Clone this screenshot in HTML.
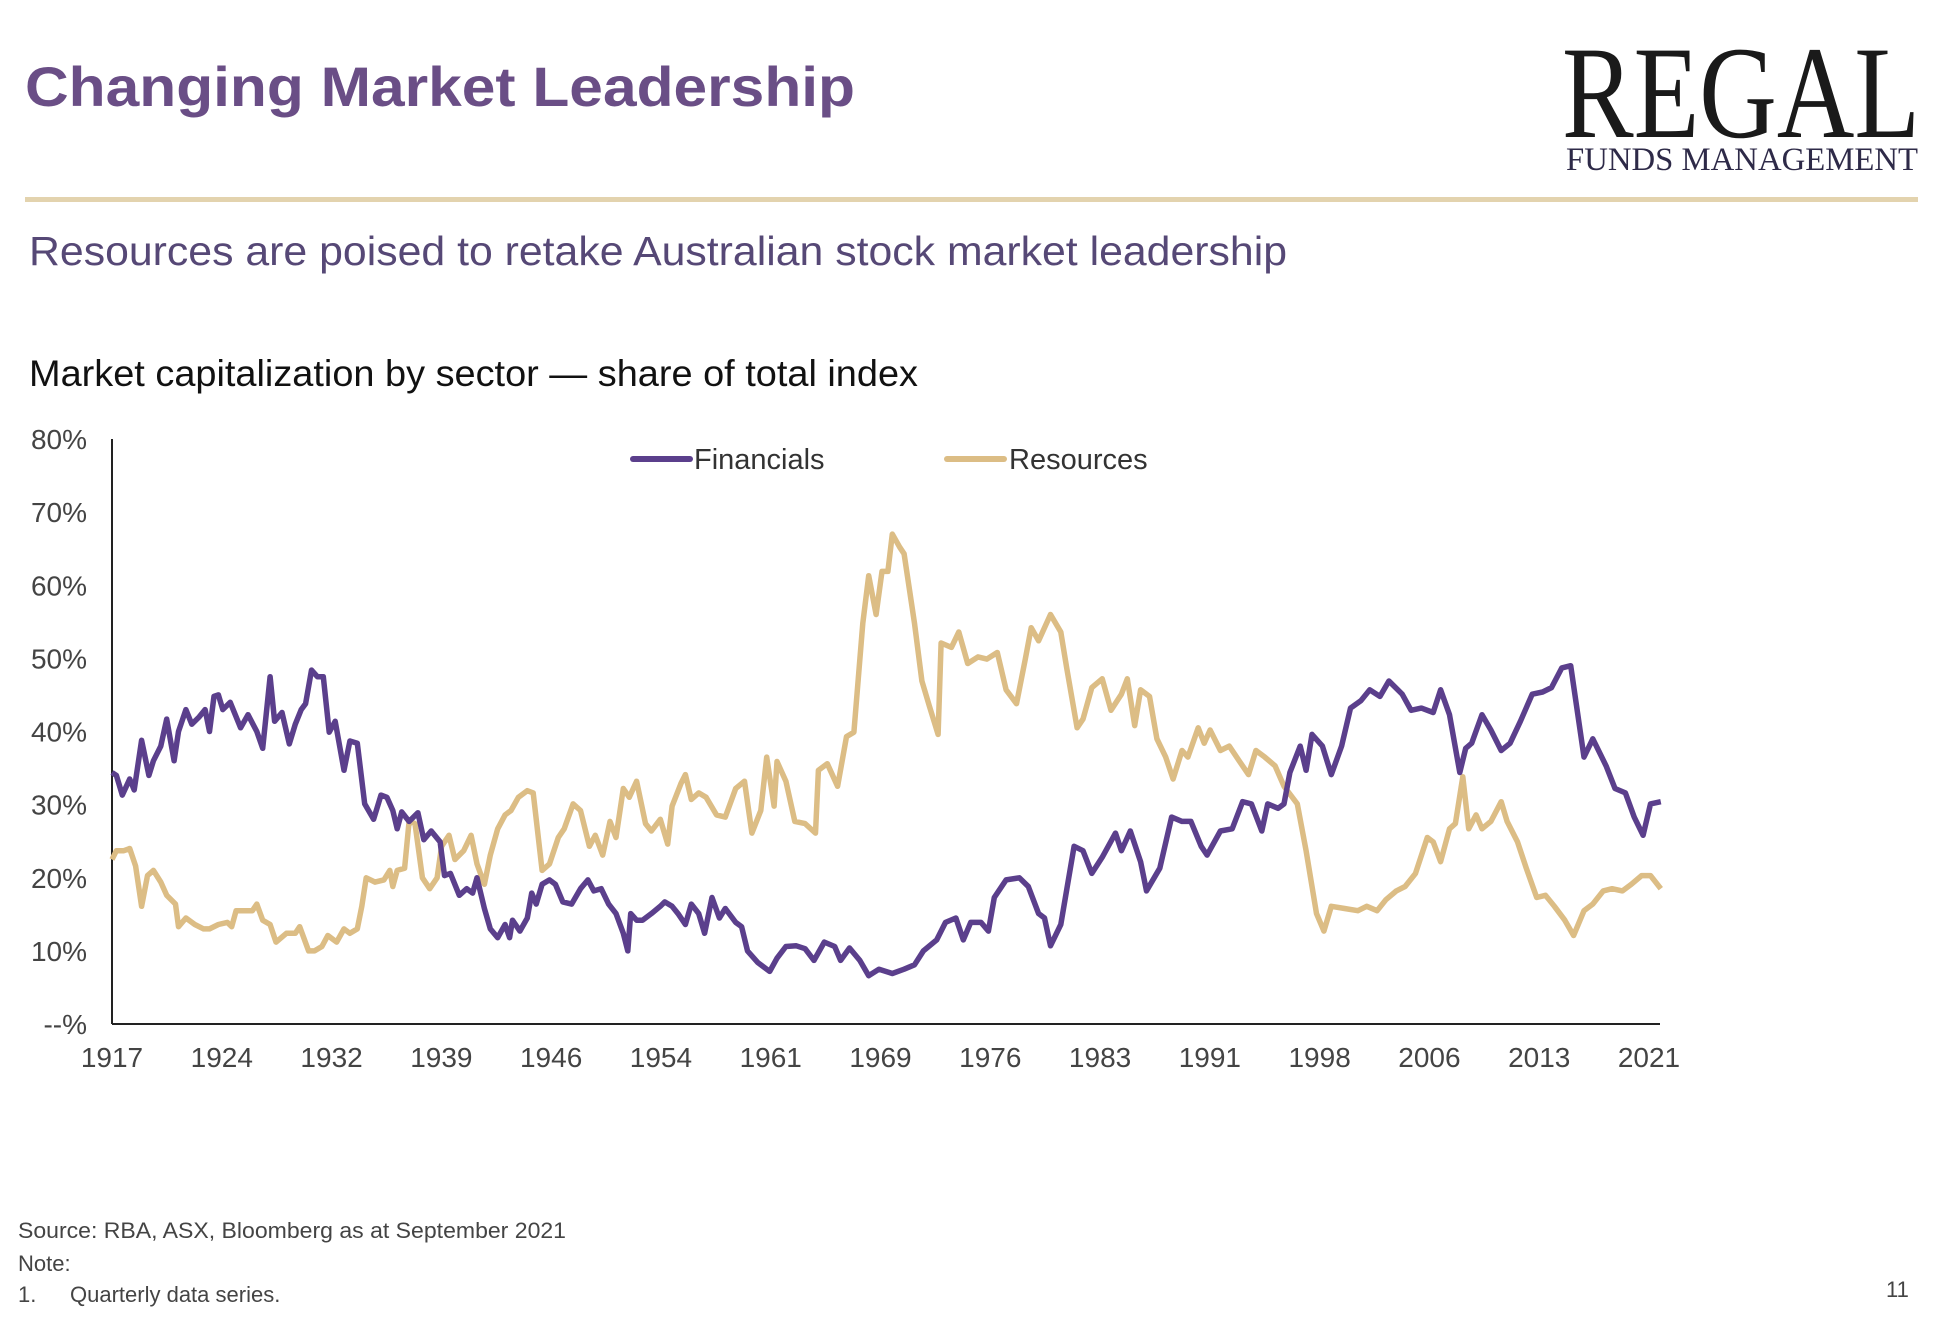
<!DOCTYPE html>
<html><head><meta charset="utf-8"><style>
html,body{margin:0;padding:0;background:#fff;}
svg{display:block;font-family:"Liberation Sans",sans-serif;}
</style></head><body>
<svg id="chart" width="1958" height="1320" viewBox="0 0 1958 1320">
<text x="25" y="106" font-size="56" font-weight="bold" fill="#6a4e86" textLength="830" lengthAdjust="spacingAndGlyphs">Changing Market Leadership</text>
<text x="1562" y="137" font-family="Liberation Serif, serif" font-size="132" fill="#1a1a1a" textLength="358" lengthAdjust="spacingAndGlyphs">REGAL</text>
<text x="1566" y="170" font-family="Liberation Serif, serif" font-size="33" fill="#2e2a48" textLength="352" lengthAdjust="spacingAndGlyphs">FUNDS MANAGEMENT</text>
<rect x="25" y="197" width="1893" height="5" fill="#e3d3ae"/>
<text x="29" y="265" font-size="41" fill="#564876" textLength="1258" lengthAdjust="spacingAndGlyphs">Resources are poised to retake Australian stock market leadership</text>
<text x="29" y="386" font-size="37" fill="#111" textLength="889" lengthAdjust="spacingAndGlyphs">Market capitalization by sector — share of total index</text>
<g id="axes"></g>
<g id="series"></g>
<g>
<line x1="633" y1="459" x2="690" y2="459" stroke="#5b3f8c" stroke-width="6" stroke-linecap="round"/>
<text x="694" y="469" font-size="29" fill="#333">Financials</text>
<line x1="947" y1="459" x2="1004" y2="459" stroke="#dcbd85" stroke-width="6" stroke-linecap="round"/>
<text x="1009" y="469" font-size="29" fill="#333">Resources</text>
</g>
<text x="18" y="1238" font-size="22" fill="#444" textLength="548" lengthAdjust="spacingAndGlyphs">Source: RBA, ASX, Bloomberg as at September 2021</text>
<text x="18" y="1271" font-size="22" fill="#444">Note:</text>
<text x="18" y="1302" font-size="22" fill="#444">1.</text>
<text x="70" y="1302" font-size="22" fill="#444">Quarterly data series.</text>
<text x="1886" y="1297" font-size="22" fill="#444">11</text>
</svg>
<script>
const yTicks = [0,10,20,30,40,50,60,70,80];
const yTickLabels = ["--%","10%","20%","30%","40%","50%","60%","70%","80%"];
const xTickYears = [1917,1924,1932,1939,1946,1954,1961,1969,1976,1983,1991,1998,2006,2013,2021];
const finYears = [1917.0,1917.3,1917.7,1918.2,1918.5,1919.0,1919.5,1919.8,1920.3,1920.7,1921.2,1921.5,1922.0,1922.4,1922.9,1923.3,1923.6,1923.9,1924.2,1924.5,1925.0,1925.7,1926.2,1926.8,1927.2,1927.7,1928.0,1928.5,1929.0,1929.4,1929.8,1930.1,1930.5,1930.9,1931.3,1931.7,1932.1,1932.7,1933.1,1933.6,1934.1,1934.7,1935.2,1935.6,1936.0,1936.3,1936.6,1937.1,1937.7,1938.1,1938.6,1939.2,1939.5,1939.9,1940.5,1941.0,1941.4,1941.7,1942.2,1942.6,1943.1,1943.6,1943.9,1944.1,1944.6,1945.1,1945.4,1945.7,1946.1,1946.6,1947.0,1947.5,1948.1,1948.7,1949.2,1949.6,1950.1,1950.6,1951.1,1951.6,1951.9,1952.1,1952.5,1952.9,1953.5,1954.1,1954.4,1954.9,1955.3,1955.8,1956.2,1956.7,
1957.1,1957.6,1958.1,1958.5,1959.2,1959.6,1960.0,1960.7,1961.5,1962.0,1962.6,1963.3,1963.9,1964.5,1965.2,1965.9,1966.3,1966.9,1967.6,1968.2,1968.9,1969.8,1970.6,1971.3,1971.9,1972.8,1973.4,1974.1,1974.6,1975.1,1975.8,1976.3,1976.7,1977.5,1978.4,1979.0,1979.7,1980.1,1980.5,1981.2,1982.1,1982.7,1983.3,1984.0,1984.9,1985.3,1985.9,1986.6,1987.0,1987.9,1988.7,1989.4,1990.0,1990.7,1991.1,1992.0,1992.8,1993.5,1994.1,1994.8,1995.2,1995.9,1996.3,1996.7,1997.4,1997.8,1998.2,1998.9,1999.5,2000.2,2000.8,2001.5,2002.1,2002.8,2003.4,2004.3,2004.9,2005.6,2006.4,2006.9,2007.5,2008.2,2008.6,2009.0,2009.7,2010.3,2011.0,2011.6,2012.3,2013.1,2013.8,2014.4,2015.1,2015.7,2016.6,2017.2,2018.1,2018.7,2019.4,2020.0,2020.6,2021.1,2021.8];
const finValues = [34.4,34,31.3,33.5,32,38.8,34,36,38,41.7,36,40,43,41,42,43,40,44.8,45,43,44,40.5,42.3,40,37.7,47.5,41.4,42.6,38.3,41,43,43.8,48.4,47.5,47.5,39.9,41.4,34.7,38.7,38.4,30.1,28,31.3,31,29.2,26.7,29,27.7,28.9,25.2,26.4,24.9,20.3,20.6,17.6,18.5,17.9,20,15.8,13,11.8,13.6,11.8,14.2,12.7,14.5,17.9,16.4,19.1,19.7,19.1,16.7,16.4,18.5,19.7,18.2,18.5,16.4,15.1,12.4,10,15.1,14.2,14.2,15.1,16.1,16.7,16.1,15.1,13.6,16.4,15.1,
12.4,17.3,14.5,15.8,13.9,13.3,10,8.4,7.2,9,10.6,10.7,10.3,8.7,11.2,10.6,8.7,10.4,8.7,6.6,7.5,6.9,7.5,8.1,10,11.5,13.9,14.5,11.5,13.9,13.9,12.7,17.3,19.7,20,18.8,15.1,14.5,10.7,13.6,24.3,23.7,20.6,22.8,26.1,23.7,26.4,22.2,18.2,21.3,28.3,27.7,27.7,24.3,23.1,26.4,26.7,30.4,30.1,26.4,30.1,29.5,30.1,34.4,38,34.7,39.6,38,34.1,38,43.2,44.2,45.7,44.8,46.9,45.1,42.9,43.2,42.6,45.7,42.3,34.4,37.7,38.4,42.3,40.2,37.4,38.4,41.4,45.1,45.4,46,48.7,49,36.5,39,35.3,32.2,31.6,28.3,25.8,30.1,30.4];
const resYears = [1917.0,1917.3,1917.8,1918.2,1918.6,1919.0,1919.4,1919.8,1920.3,1920.7,1921.3,1921.5,1922.0,1922.6,1923.2,1923.6,1924.2,1924.8,1925.1,1925.4,1926.0,1926.5,1926.8,1927.2,1927.7,1928.1,1928.8,1929.4,1929.7,1930.3,1930.7,1931.2,1931.6,1932.2,1932.7,1933.1,1933.6,1933.9,1934.2,1934.8,1935.4,1935.8,1936.0,1936.3,1936.8,1937.1,1937.5,1938.0,1938.5,1939.0,1939.3,1939.8,1940.2,1940.8,1941.3,1941.7,1942.2,1942.6,1943.1,1943.6,1944.0,1944.5,1945.1,1945.5,1946.1,1946.6,1947.2,1947.6,1948.2,1948.7,1949.3,1949.7,1950.2,1950.7,1951.1,1951.6,1952.0,1952.5,1953.1,1953.5,1954.1,1954.6,1954.9,1955.5,1955.8,1956.2,1956.7,
1957.2,1957.9,1958.5,1959.2,1959.8,1960.3,1960.9,1961.3,1961.8,1962.0,1962.6,1963.2,1963.9,1964.6,1964.8,1965.4,1966.1,1966.7,1967.2,1967.8,1968.2,1968.7,1969.1,1969.5,1969.8,1970.3,1970.6,1971.3,1971.8,1972.3,1972.9,1973.1,1973.8,1974.3,1974.9,1975.6,1976.2,1976.9,1977.5,1978.2,1978.8,1979.2,1979.7,1980.5,1981.2,1981.6,1982.3,1982.7,1983.3,1984.0,1984.6,1985.3,1985.7,1986.2,1986.6,1987.2,1987.7,1988.3,1988.8,1989.4,1989.8,1990.5,1990.9,1991.3,1992.0,1992.6,1993.3,1993.9,1994.4,1995.0,1995.7,1996.3,1997.2,1997.8,1998.5,1999.0,1999.5,2000.4,2001.3,2001.9,2002.6,2003.2,2003.9,2004.5,2005.2,2006.0,2006.4,2006.9,2007.5,2007.9,2008.4,2008.8,2009.3,2009.7,2010.3,2011.0,2011.4,2012.1,2012.7,2013.4,2014.0,2014.6,2015.3,2015.9,2016.6,2017.2,2017.9,2018.5,2019.2,2019.8,2020.5,2021.1,2021.8];
const resValues = [22.5,23.7,23.7,24,21.6,16.1,20.3,21,19.4,17.6,16.4,13.3,14.5,13.6,13,13,13.6,13.9,13.3,15.5,15.5,15.5,16.4,14.2,13.6,11.2,12.4,12.4,13.3,10,10,10.6,12.1,11.2,13,12.4,13,16.1,20,19.4,19.7,21,18.8,21,21.3,27.7,27.4,20,18.5,20,24.3,25.8,22.5,23.7,25.8,21.9,19.1,23.1,26.7,28.6,29.2,31,31.9,31.6,21,21.9,25.5,26.7,30.1,29.2,24.3,25.8,23.1,27.7,25.5,32.2,31,33.2,27.4,26.4,28,24.6,29.8,32.9,34.1,30.7,31.6,
31,28.6,28.3,32.2,33.2,26.1,29.2,36.5,29.8,35.9,33.2,27.7,27.4,26.1,34.7,35.6,32.5,39.3,39.9,54.8,61.3,56,61.9,61.9,67,65.2,64.3,54.8,46.9,43.5,39.6,52.1,51.5,53.6,49.3,50.2,49.9,50.8,45.7,43.8,49.9,54.2,52.4,56,53.6,48.7,40.5,41.7,46,47.2,42.9,45.1,47.2,40.8,45.7,44.8,39,36.5,33.5,37.4,36.5,40.5,38.4,40.2,37.4,38,35.9,34.1,37.4,36.5,35.3,32.5,30.1,23.7,15.1,12.7,16.1,15.8,15.5,16.1,15.5,17,18.2,18.8,20.6,25.5,24.9,22.2,26.7,27.4,33.8,26.7,28.6,26.7,27.7,30.4,27.7,24.9,21.3,17.3,17.6,16.1,14.2,12.1,15.5,16.4,18.2,18.5,18.2,19.1,20.3,20.3,18.5];

const NS = "http://www.w3.org/2000/svg";
const X0 = 112, X1 = 1649, Y0 = 1024, Y1 = 439;
function xs(yr){ return X0 + (yr - 1917) / (2021 - 1917) * (X1 - X0); }
function ys(v){ return Y0 - v / 80 * (Y0 - Y1); }
function mk(tag, attrs, parent){ const e = document.createElementNS(NS, tag); for (const k in attrs) e.setAttribute(k, attrs[k]); parent.appendChild(e); return e; }
const axes = document.getElementById('axes');
const series = document.getElementById('series');
const yAxis = mk('line', {x1:X0, y1:Y1, x2:X0, y2:Y0, stroke:'#222', 'stroke-width':2}, axes);


const xAxis = mk('line', {x1:X0, y1:Y0, x2:1660, y2:Y0, stroke:'#222', 'stroke-width':2}, axes);


yTicks.forEach((v, i) => {
  const t = mk('text', {x:87, y:ys(v) + 10, 'font-size':28, fill:'#444', 'text-anchor':'end'}, axes);
  t.textContent = yTickLabels[i];
  
  
});
xTickYears.forEach((yr, i) => {
  const px = X0 + i * (X1 - X0) / (xTickYears.length - 1);
  const t = mk('text', {x:px, y:1067, 'font-size':28, fill:'#444', 'text-anchor':'middle'}, axes);
  t.textContent = String(yr);
  
  
});
function path(yrs, vals){ return yrs.map((y, i) => (i ? 'L' : 'M') + xs(y).toFixed(1) + ' ' + ys(vals[i]).toFixed(1)).join(' '); }
const res = mk('path', {d:path(resYears, resValues), fill:'none', stroke:'#dcbd85', 'stroke-width':5.5, 'stroke-linejoin':'round'}, series);


const fin = mk('path', {d:path(finYears, finValues), fill:'none', stroke:'#5b3f8c', 'stroke-width':5.5, 'stroke-linejoin':'round'}, series);


</script>
</body></html>
